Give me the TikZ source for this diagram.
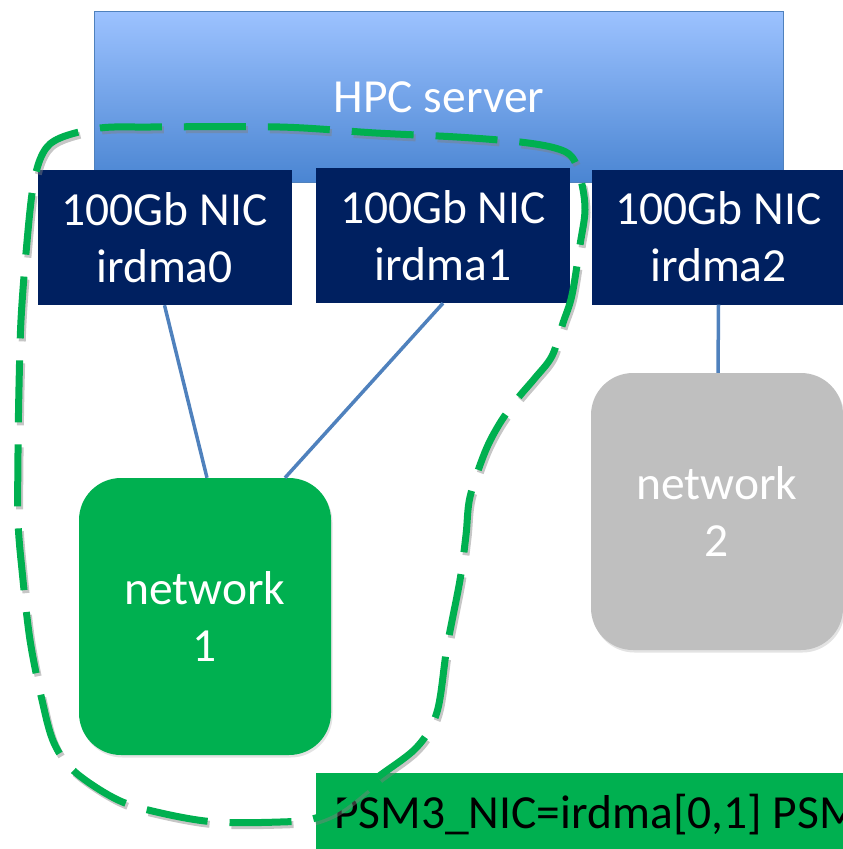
\documentclass[tikz,border=0pt]{standalone}
\usepackage{fontspec}
\setmainfont{Carlito}
\usetikzlibrary{shadows,calc}

\definecolor{navy}{HTML}{002060}
\definecolor{grn}{HTML}{00B050}
\definecolor{linkblue}{HTML}{4F81BD}
\definecolor{srvtop}{HTML}{9CC2FF}
\definecolor{srvbot}{HTML}{4A85D2}
\definecolor{gry}{HTML}{BFBFBF}

\begin{document}
\begin{tikzpicture}[x=1pt,y=-1pt,
  lbl/.style={font=\fontsize{47.5}{57}\selectfont, align=center, inner sep=0pt},
  nic/.style={lbl, fill=navy, text=white, minimum width=254pt, minimum height=135pt},
  net/.style={lbl, text=white, rounded corners=42pt, minimum width=252pt, minimum height=277pt,
    drop shadow={opacity=0.22, shadow xshift=1.5pt, shadow yshift=-2.5pt}},
  link/.style={linkblue, line width=3.5pt},
  ring/.style={line width=7pt, dash pattern=on 62pt off 22pt}]

\useasboundingbox (0,0) rectangle (843,849);
\clip (0,0) rectangle (843,849);

% server chassis
\node[lbl, draw=linkblue, line width=1pt, top color=srvtop, bottom color=srvbot,
      text=white, minimum width=689pt, minimum height=171pt] (srv) at (439,97) {HPC server};

% network cards
\node[nic] (nic0) at (164.5,237.5) {100Gb NIC\\irdma0};
\node[nic] (nic1) at (443,235.5) {100Gb NIC\\irdma1};
\node[nic] (nic2) at (718.5,237) {100Gb NIC\\irdma2};

% fabrics
\node[net, fill=grn] (net1) at (205,616.5) {network\\1};
\node[net, fill=gry] (net2) at (717,511.5) {network\\2};

% cabling
\draw[link] (nic0.south) -- ([xshift=2pt]net1.north);
\draw[link] (nic1.south) -- ([xshift=80pt]net1.north);
\draw[link] (nic2.south) -- ([xshift=1pt]net2.north);

% environment setting
\node[lbl, fill=grn, text=black, anchor=north west, minimum height=76pt,
      inner xsep=18pt, text depth=0pt] (psm) at (316,773) {PSM3\_NIC=irdma[0,1] PSM\hspace{60pt}};

% selection outline around the first fabric
\foreach \dx/\dy/\c/\o in {2/-3/gray/0.45, 0/0/grn/1}{
  \draw[ring, draw=\c, draw opacity=\o, xshift=\dx pt, yshift=\dy pt]
    plot[smooth cycle, tension=0.55] coordinates {
      (340,807) (378,777) (417,747) (437,712) (447,647) (460,580) (466,535) (470,497)
      (485,452) (500,423) (518,398) (535,378) (552,356) (563,323) (572,295) (580,245)
      (585,210) (581,180) (572,157) (555,148) (520,142) (457,137) (376,133) (280,127)
      (150,127) (100,128) (60,138) (43,153) (33,187) (26,253) (21,320) (19,387)
      (18,453) (18,520) (22,570) (30,640) (42,700) (54,743) (75,772) (118,800)
      (161,813) (215,822) (280,822) (312,819)
    };
}
\end{tikzpicture}
\end{document}
